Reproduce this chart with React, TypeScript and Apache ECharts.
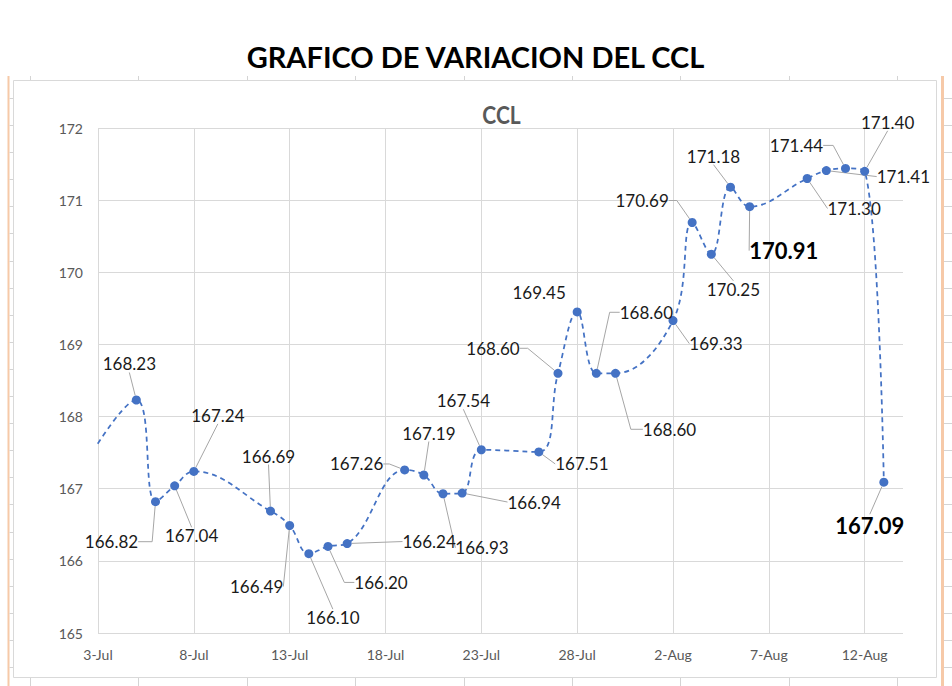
import React, { useEffect, useRef } from "react";
import * as echarts from "echarts";

// ---- data (CCL quotes, 2021) ----
const BASE_DATE = "2021-07-03"; // first x-axis tick
const dates = [
  "2021-07-02", "2021-07-05", "2021-07-06", "2021-07-07", "2021-07-08",
  "2021-07-12", "2021-07-13", "2021-07-14", "2021-07-15", "2021-07-16",
  "2021-07-19", "2021-07-20", "2021-07-21", "2021-07-22", "2021-07-23",
  "2021-07-26", "2021-07-27", "2021-07-28", "2021-07-29", "2021-07-30",
  "2021-08-02", "2021-08-03", "2021-08-04", "2021-08-05", "2021-08-06",
  "2021-08-09", "2021-08-10", "2021-08-11", "2021-08-12", "2021-08-13",
];
const values = [
  167.2, 168.23, 166.82, 167.04, 167.24,
  166.69, 166.49, 166.1, 166.2, 166.24,
  167.26, 167.19, 166.93, 166.94, 167.54,
  167.51, 168.6, 169.45, 168.6, 168.6,
  169.33, 170.69, 170.25, 171.18, 170.91,
  171.3, 171.41, 171.44, 171.4, 167.09,
];
const Y_MIN = 165;
const Y_MAX = 172;
const Y_STEP = 1;
const X_MAX_DAYS = 42; // 14-Aug
const X_STEP_DAYS = 5;
const MONTHS = ["Jan", "Feb", "Mar", "Apr", "May", "Jun", "Jul", "Aug", "Sep", "Oct", "Nov", "Dec"];

// ---- label placement (pixel offsets from each point), kept apart from the data ----
const labelOffsets: [number, number][] = [
  [0, 0], [-7, -36], [-44, 40], [17, 50], [24, -56],
  [-2, -55], [-33, 61], [24, 64], [53, 36], [82, -2],
  [-48, -6], [5, -42], [39, 54], [72, 9], [-18, -49],
  [43, 12], [-65, -25], [-38, -19], [50, -61], [54, 56],
  [43, 23], [-50, -22], [22, 35], [-17, -31], [34, 44],
  [47, 30], [77, 6], [-49, -23], [23, -49], [-14, 43],
];
const elbowLen = [
  0, 0, 14, 0, 0, 0, 0, 0, 10, 0,
  6, 0, 0, 0, 0, 0, 8, 0, 10, 12,
  0, 8, 0, 0, 0, 0, 0, 10, 0, 0,
];
const boldIdx = [24, 29];
const hiddenIdx = [0];
const noLineIdx = [17];

const DAY = 86400000;
const baseMs = Date.parse(BASE_DATE);
const dayOffset = (d: string) => Math.round((Date.parse(d) - baseMs) / DAY);
const fmtDay = (v: number) => {
  const dt = new Date(baseMs + v * DAY);
  return dt.getUTCDate() + "-" + MONTHS[dt.getUTCMonth()];
};

export default function App() {
  const ref = useRef<HTMLDivElement>(null);

  useEffect(() => {
    document.body.style.margin = "0";
    if (!ref.current) return;
    const chart = echarts.init(ref.current, null, { renderer: "svg" });

    const seriesData = dates.map((d, i) => {
      const item: any = { value: [dayOffset(d), values[i]] };
      const label: any = {};
      if (hiddenIdx.includes(i)) label.show = false;
      if (boldIdx.includes(i)) {
        label.fontSize = 22;
        label.fontWeight = "bold";
        label.color = "#000";
      }
      item.label = label;
      item.labelLine = {
        show: !noLineIdx.includes(i) && !hiddenIdx.includes(i),
        length2: elbowLen[i],
      };
      return item;
    });

    // decorative spreadsheet frame
    const decor: any[] = [];
    const gridStroke = "#d4d4d4";
    decor.push({
      type: "rect",
      shape: { x: 13.5, y: 80.5, width: 923, height: 597 },
      style: { fill: "none", stroke: "#d9d9d9", lineWidth: 1 },
    });
    decor.push({
      type: "line",
      shape: { x1: 8.5, y1: 76, x2: 8.5, y2: 686 },
      style: { stroke: "#f6c9a8", lineWidth: 2 },
    });
    decor.push({
      type: "line",
      shape: { x1: 942.5, y1: 76, x2: 942.5, y2: 686 },
      style: { stroke: "#f6c9a8", lineWidth: 3 },
    });
    for (let k = 0; k < 9; k++) {
      const x = Math.round(30 + k * 108.4) + 0.5;
      decor.push({ type: "line", shape: { x1: x, y1: 76, x2: x, y2: 80 }, style: { stroke: gridStroke, lineWidth: 1 } });
      decor.push({ type: "line", shape: { x1: x, y1: 678, x2: x, y2: 686 }, style: { stroke: gridStroke, lineWidth: 1 } });
    }
    for (let k = 0; k < 22; k++) {
      const y = Math.round(98 + k * 27.095) + 0.5;
      decor.push({ type: "line", shape: { x1: 9.5, y1: y, x2: 13, y2: y }, style: { stroke: gridStroke, lineWidth: 1 } });
      decor.push({ type: "line", shape: { x1: 944, y1: y, x2: 952, y2: y }, style: { stroke: gridStroke, lineWidth: 1 } });
    }
    decor.push({
      type: "text",
      x: 475.5,
      y: 56,
      style: {
        text: "GRAFICO DE VARIACION DEL CCL",
        font: "bold 29px Lato",
        fill: "#000",
        textAlign: "center",
        textVerticalAlign: "middle",
      },
    });
    decor.push({
      type: "text",
      x: 501.5,
      y: 115,
      scaleY: 1.15,
      style: {
        text: "CCL",
        font: "bold 21px Lato",
        fill: "#595959",
        textAlign: "center",
        textVerticalAlign: "middle",
      },
    });

    chart.setOption({
      animation: false,
      backgroundColor: "#fff",
      graphic: { elements: decor },
      grid: { left: 98, right: 49, top: 128, bottom: 53, containLabel: false },
      xAxis: {
        type: "value",
        min: 0,
        max: X_MAX_DAYS,
        interval: X_STEP_DAYS,
        axisLine: { show: false },
        axisTick: { show: false },
        splitLine: { show: true, showMaxLine: false, lineStyle: { color: "#d9d9d9", width: 1 } },
        axisLabel: {
          showMaxLabel: false,
          margin: 14,
          color: "#595959",
          fontFamily: "Lato",
          fontSize: 14,
          formatter: (v: number) => fmtDay(v),
        },
      },
      yAxis: {
        type: "value",
        min: Y_MIN,
        max: Y_MAX,
        interval: Y_STEP,
        axisLine: { show: false },
        axisTick: { show: false },
        splitLine: { show: true, lineStyle: { color: "#d9d9d9", width: 1 } },
        axisLabel: {
          margin: 15,
          color: "#595959",
          fontFamily: "Lato",
          fontSize: 14,
        },
      },
      series: [
        {
          type: "line",
          data: seriesData,
          smooth: 0.4,
          clip: true,
          symbol: "circle",
          symbolSize: 9,
          showAllSymbol: true,
          itemStyle: { color: "#4472c4" },
          lineStyle: { color: "#4472c4", width: 1.75, type: [5, 4] },
          label: {
            show: true,
            position: "inside",
            fontFamily: "Lato",
            fontSize: 17,
            color: "#1a1a1a",
            formatter: (p: any) => Number(p.value[1]).toFixed(2),
          },
          labelLine: {
            show: true,
            length2: 0,
            lineStyle: { color: "#a6a6a6", width: 1 },
          },
          labelLayout: (params: any) => {
            const o = labelOffsets[params.dataIndex] || [0, 0];
            return { dx: o[0], dy: o[1] };
          },
        },
      ],
    });

    return () => chart.dispose();
  }, []);

  return <div ref={ref} style={{ width: 952, height: 686 }} />;
}
